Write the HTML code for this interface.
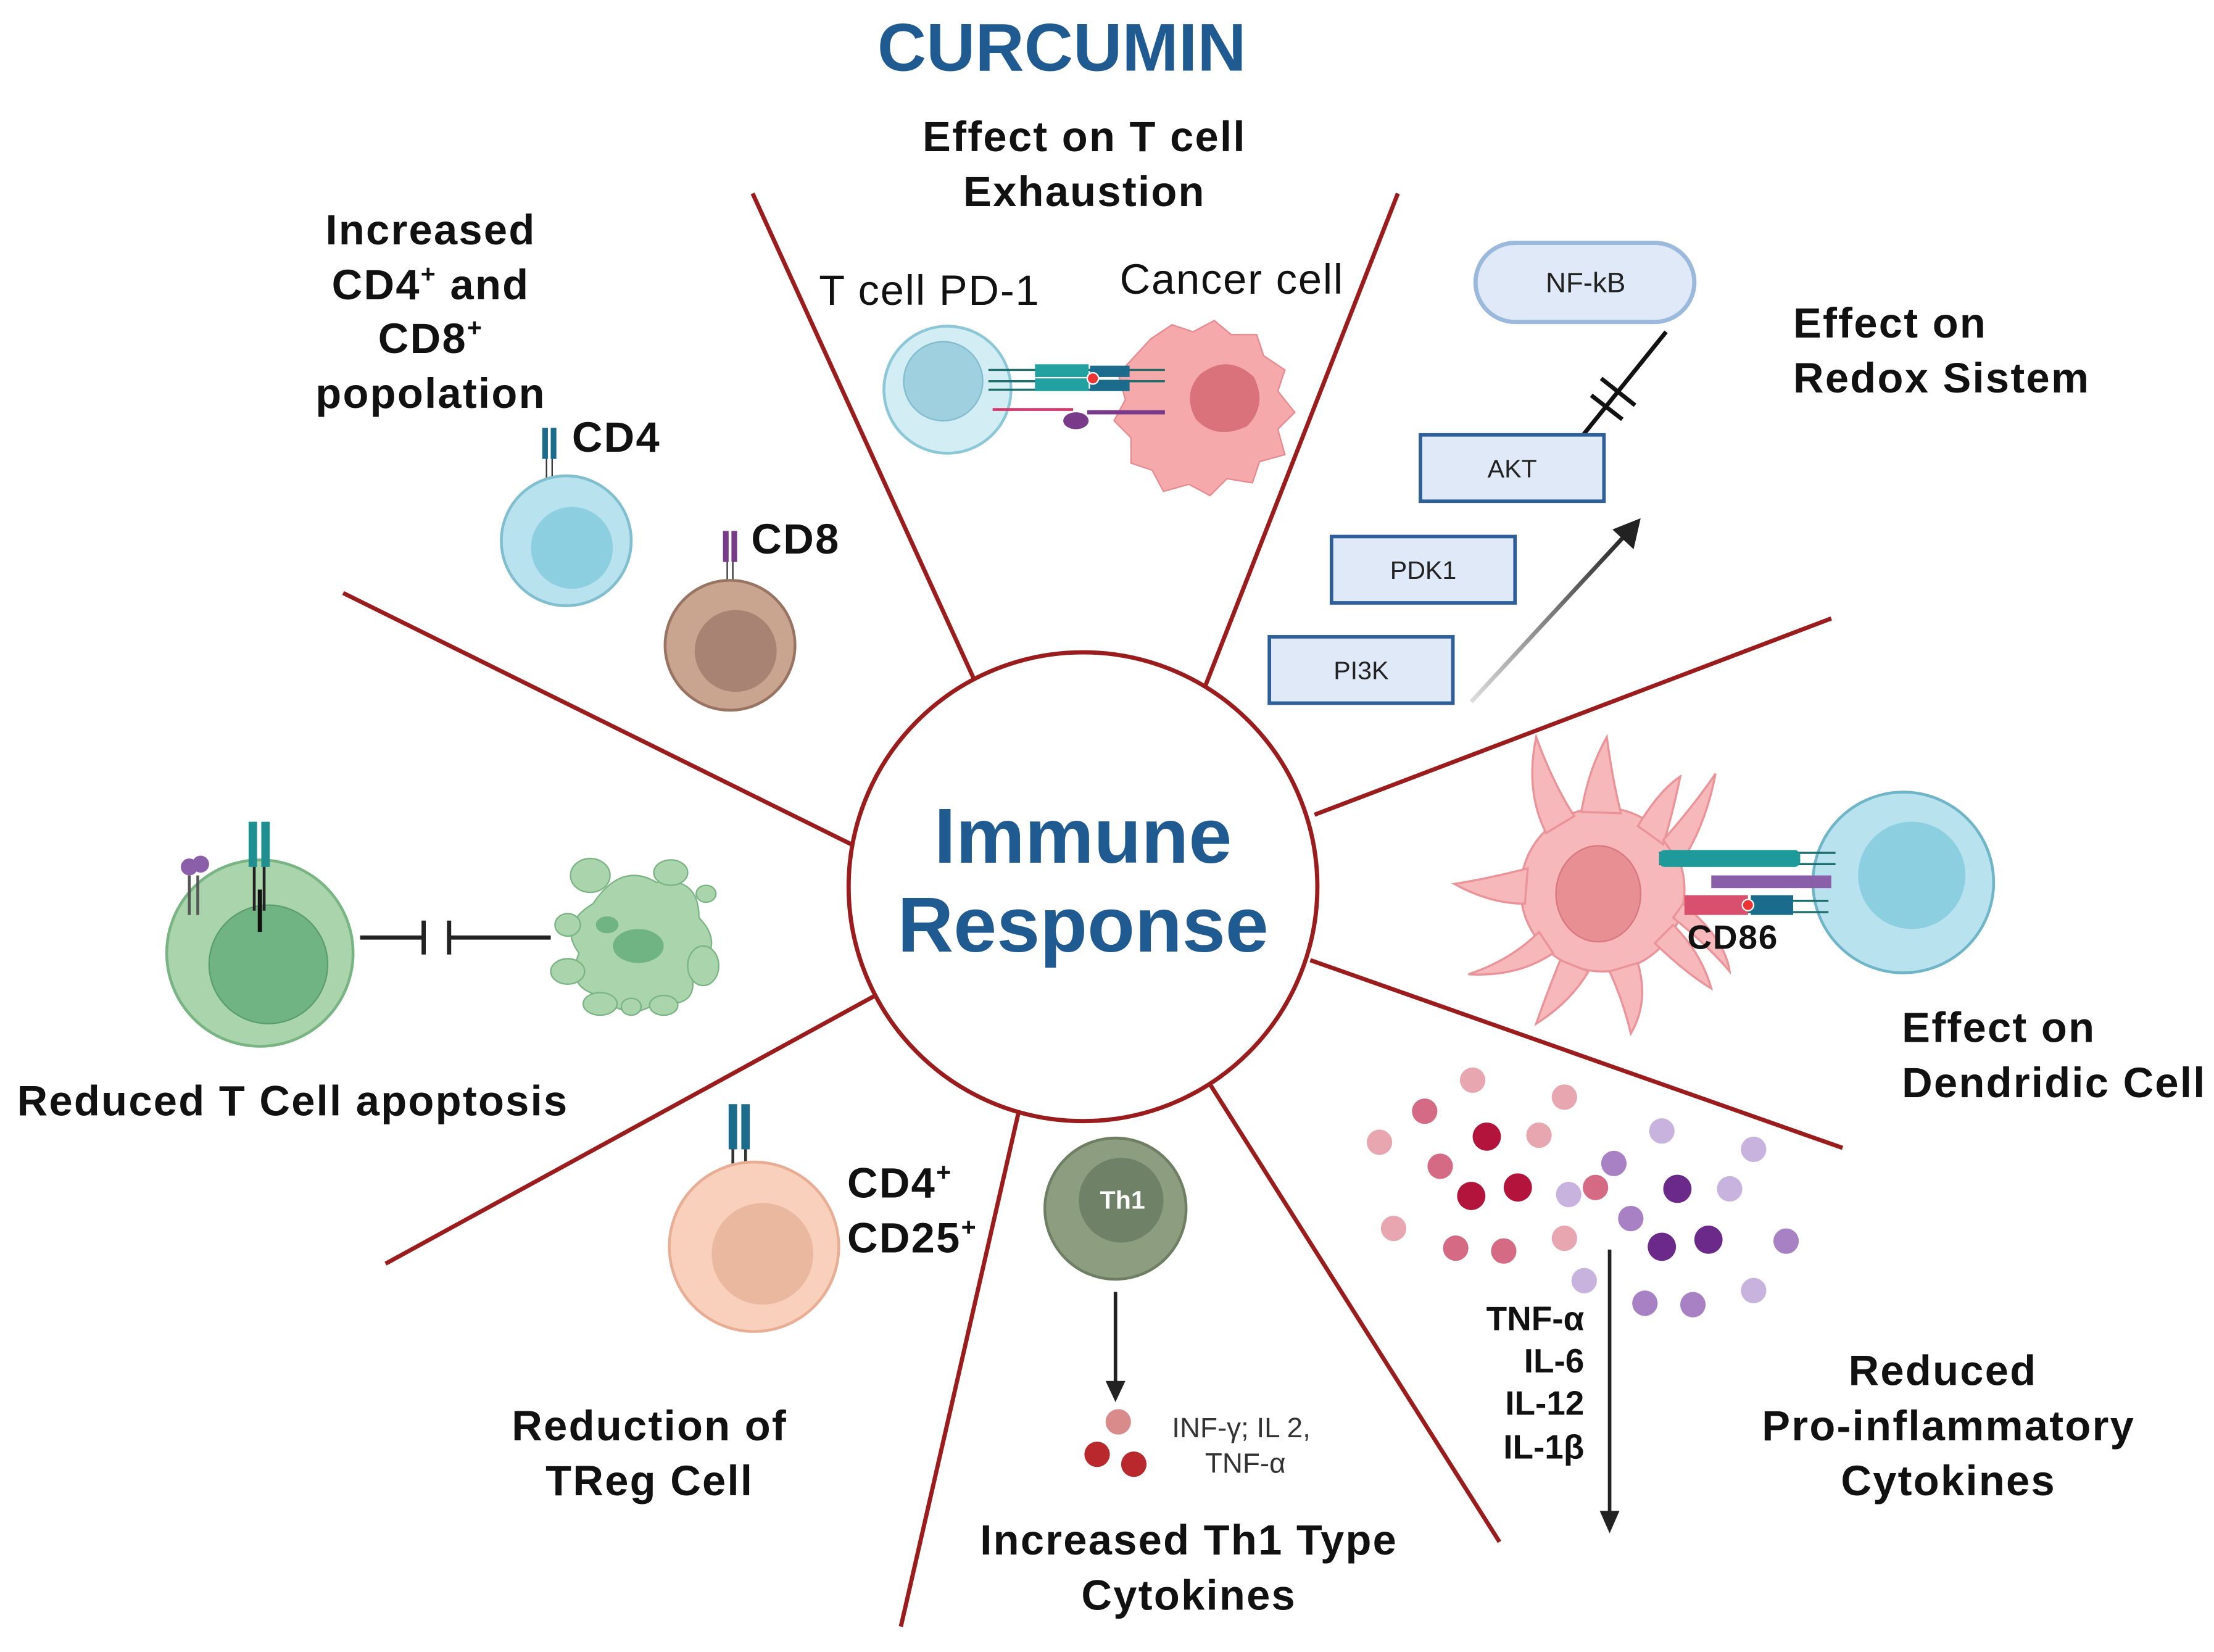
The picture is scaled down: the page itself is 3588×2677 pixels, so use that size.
<!DOCTYPE html>
<html><head><meta charset="utf-8"><style>
html,body{margin:0;padding:0;background:#fff;}
svg{display:block;}
text{font-family:"Liberation Sans",Arial,sans-serif;}
.b{font-weight:bold;fill:#111;font-size:30px;letter-spacing:1px;}
.c{text-anchor:middle;}
</style></head><body>
<svg width="3588" height="2677" viewBox="0 0 1568 1170" xmlns="http://www.w3.org/2000/svg">
<defs>
<linearGradient id="ag" x1="0" y1="1" x2="1" y2="0"><stop offset="0" stop-color="#ddd"/><stop offset="1" stop-color="#222"/></linearGradient>
</defs>
<rect width="1568" height="1170" fill="#fff"/>
<g stroke="#9b1c1c" stroke-width="3">
<line x1="533" y1="137" x2="693" y2="488"/>
<line x1="990" y1="137" x2="852" y2="490"/>
<line x1="1297" y1="438" x2="931" y2="577"/>
<line x1="1305" y1="813" x2="928" y2="680"/>
<line x1="857" y1="768" x2="1062" y2="1092"/>
<line x1="722" y1="785" x2="638" y2="1152"/>
<line x1="620" y1="705" x2="273" y2="895"/>
<line x1="603" y1="598" x2="243" y2="420"/>
</g>
<circle cx="767" cy="628" r="166" fill="#fff" stroke="#9b1c1c" stroke-width="3"/>
<text x="752" y="50" class="c" style="font-weight:bold;font-size:48px;fill:#1f5a91">CURCUMIN</text>
<text x="767" y="611" class="c" style="font-weight:bold;font-size:55px;fill:#1f5a91">Immune</text>
<text x="767" y="674" class="c" style="font-weight:bold;font-size:55px;fill:#1f5a91">Response</text>

<text x="768" y="107" class="b c">Effect on T cell</text>
<text x="768" y="146" class="b c">Exhaustion</text>
<text x="580" y="216" style="font-size:30px;fill:#111;letter-spacing:0.8px">T cell PD-1</text>
<text x="793" y="208" style="font-size:30px;fill:#111;letter-spacing:0.8px">Cancer cell</text>
<circle cx="671" cy="276" r="45" fill="#d3edf4" stroke="#8cc7d8" stroke-width="2"/>
<circle cx="668" cy="270" r="28" fill="#9fd0df" stroke="#82bccc"/>
<path d="M815 240 l15 -10 15 5 15 -8 12 10 18 0 5 15 15 10 -5 15 12 15 -12 12 5 18 -18 5 -5 15 -18 -3 -12 12 -15 -8 -18 5 -8 -15 -15 -5 0 -18 -12 -12 8 -15 -5 -18 z" fill="#f5a9ab" stroke="#e58a8e"/>
<path d="M850 265 q20 -15 38 2 q10 20 -5 35 q-22 10 -36 -5 q-10 -18 3 -32z" fill="#d9727a"/>
<g stroke="#1f6d6d" stroke-width="1.5">
<line x1="700" y1="262" x2="825" y2="262"/><line x1="700" y1="270" x2="825" y2="270"/><line x1="700" y1="276" x2="800" y2="276"/>
</g>
<rect x="733" y="258" width="38" height="9" fill="#23a0a0"/><rect x="733" y="268" width="38" height="9" fill="#23a0a0"/>
<rect x="772" y="259" width="28" height="8" fill="#1b6c8c"/><rect x="772" y="269" width="28" height="8" fill="#1b6c8c"/>
<circle cx="774" cy="268" r="4" fill="#e33" stroke="#fff"/>
<line x1="703" y1="290" x2="760" y2="290" stroke="#d13a6a" stroke-width="2"/>
<line x1="770" y1="292" x2="825" y2="292" stroke="#7a3a8a" stroke-width="3"/>
<ellipse cx="762" cy="298" rx="9" ry="6" fill="#7a3a8a"/>

<rect x="1045" y="172" width="155" height="56" rx="28" fill="#dfe9f7" stroke="#9bb8dd" stroke-width="3"/>
<text x="1123" y="207" class="c" style="font-size:20px;fill:#222">NF-kB</text>
<line x1="1180" y1="235" x2="1110" y2="322" stroke="#111" stroke-width="3"/>
<line x1="1134" y1="268" x2="1158" y2="287" stroke="#111" stroke-width="3"/>
<line x1="1127" y1="280" x2="1149" y2="297" stroke="#111" stroke-width="3"/>
<rect x="1006" y="308" width="130" height="47" fill="#dfe9f7" stroke="#2f5f99" stroke-width="2.5"/>
<text x="1071" y="338" class="c" style="font-size:18px;fill:#222">AKT</text>
<rect x="943" y="380" width="130" height="47" fill="#dfe9f7" stroke="#2f5f99" stroke-width="2.5"/>
<text x="1008" y="410" class="c" style="font-size:18px;fill:#222">PDK1</text>
<rect x="899" y="451" width="130" height="47" fill="#dfe9f7" stroke="#2f5f99" stroke-width="2.5"/>
<text x="964" y="481" class="c" style="font-size:18px;fill:#222">PI3K</text>
<line x1="1042" y1="497" x2="1152" y2="378" stroke="url(#ag)" stroke-width="3"/>
<polygon points="1162,367 1157,389 1142,375" fill="#222"/>
<text x="1270" y="239" class="b">Effect on</text>
<text x="1270" y="278" class="b">Redox Sistem</text>

<text x="305" y="173" class="b c">Increased</text>
<text x="305" y="212" class="b c">CD4<tspan font-size="18" dy="-12">+</tspan><tspan dy="12"> and</tspan></text>
<text x="305" y="250" class="b c">CD8<tspan font-size="18" dy="-12">+</tspan></text>
<text x="305" y="289" class="b c">popolation</text>
<rect x="384" y="303" width="4" height="22" fill="#1b6c8c"/><rect x="390" y="303" width="4" height="22" fill="#1b6c8c"/>
<line x1="387" y1="325" x2="387" y2="342" stroke="#333"/><line x1="391" y1="325" x2="391" y2="342" stroke="#333"/>
<circle cx="401" cy="383" r="46" fill="#b8e2ee" stroke="#7fbfd0" stroke-width="2"/>
<circle cx="405" cy="388" r="29" fill="#8ccfe0"/>
<text x="405" y="320" class="b">CD4</text>
<rect x="512" y="376" width="4" height="22" fill="#7a3a8a"/><rect x="518" y="376" width="4" height="22" fill="#7a3a8a"/>
<line x1="515" y1="398" x2="515" y2="414" stroke="#333"/><line x1="519" y1="398" x2="519" y2="414" stroke="#333"/>
<circle cx="517" cy="457" r="46" fill="#c9a48f" stroke="#9a7462" stroke-width="2"/>
<circle cx="521" cy="461" r="29" fill="#a88272"/>
<text x="532" y="392" class="b">CD8</text>

<circle cx="184" cy="675" r="66" fill="#a9d4ac" stroke="#79b483" stroke-width="2"/>
<circle cx="190" cy="683" r="42" fill="#6fb482" stroke="#5a9e6d"/>
<rect x="176" y="582" width="6" height="32" fill="#1f8f8f"/><rect x="185" y="582" width="6" height="32" fill="#1f8f8f"/>
<line x1="180" y1="614" x2="180" y2="645" stroke="#222" stroke-width="2"/><line x1="187" y1="614" x2="187" y2="645" stroke="#222" stroke-width="2"/>
<line x1="184" y1="630" x2="184" y2="660" stroke="#111" stroke-width="3"/>
<circle cx="134" cy="614" r="6" fill="#8a5ea8"/><circle cx="142" cy="612" r="6" fill="#8a5ea8"/>
<line x1="134" y1="620" x2="134" y2="648" stroke="#555" stroke-width="2"/><line x1="140" y1="620" x2="140" y2="648" stroke="#555" stroke-width="2"/>
<line x1="255" y1="664" x2="300" y2="664" stroke="#222" stroke-width="3"/>
<line x1="300" y1="652" x2="300" y2="676" stroke="#222" stroke-width="3"/>
<line x1="318" y1="652" x2="318" y2="676" stroke="#222" stroke-width="3"/>
<line x1="318" y1="664" x2="390" y2="664" stroke="#222" stroke-width="3"/>
<g fill="#a9d4ac" stroke="#79b483">
<path d="M420 640 q20 -30 45 -15 q30 -5 30 25 q20 20 -5 40 q5 25 -25 20 q-20 15 -40 -5 q-25 -5 -15 -30 q-15 -20 10 -35z"/>
<ellipse cx="418" cy="620" rx="14" ry="12"/><ellipse cx="475" cy="618" rx="12" ry="9"/>
<ellipse cx="500" cy="633" rx="7" ry="6"/><ellipse cx="402" cy="655" rx="9" ry="8"/>
<ellipse cx="402" cy="688" rx="12" ry="9"/><ellipse cx="425" cy="711" rx="12" ry="8"/>
<ellipse cx="498" cy="684" rx="11" ry="14"/><ellipse cx="470" cy="712" rx="10" ry="7"/><ellipse cx="447" cy="713" rx="7" ry="6"/>
</g>
<ellipse cx="452" cy="670" rx="18" ry="12" fill="#6fb482"/><ellipse cx="430" cy="655" rx="8" ry="6" fill="#6fb482"/>
<text x="12" y="790" class="b">Reduced T Cell apoptosis</text>

<!-- Dendritic -->
<g fill="#f7b8bb" stroke="#ea9398" stroke-width="1.5">
<circle cx="1135" cy="630" r="58"/>
<path d="M1095 590 Q1080 560 1088 522 Q1100 555 1115 578 Z"/>
<path d="M1120 575 Q1125 545 1138 522 Q1142 552 1148 576 Z"/>
<path d="M1160 585 Q1175 560 1190 550 Q1185 575 1178 598 Z"/>
<path d="M1178 595 Q1200 570 1215 548 Q1208 585 1190 612 Z"/>
<path d="M1082 615 Q1055 622 1030 626 Q1055 640 1080 640 Z"/>
<path d="M1090 660 Q1070 680 1040 690 Q1075 692 1100 675 Z"/>
<path d="M1105 680 Q1095 705 1088 725 Q1112 710 1125 688 Z"/>
<path d="M1140 688 Q1150 710 1155 732 Q1168 710 1160 682 Z"/>
<path d="M1172 668 Q1195 690 1212 700 Q1205 675 1185 655 Z"/>
<path d="M1185 650 Q1210 670 1225 688 Q1222 665 1192 640 Z"/>
</g>
<ellipse cx="1132" cy="633" rx="30" ry="34" fill="#e88f94" stroke="#d8777e"/>
<circle cx="1348" cy="625" r="64" fill="#b8e2ee" stroke="#6fb5c8" stroke-width="2"/>
<circle cx="1354" cy="620" r="38" fill="#8ccfe0"/>
<g stroke="#1f6d6d" stroke-width="1.5">
<line x1="1175" y1="604" x2="1300" y2="604"/><line x1="1175" y1="612" x2="1300" y2="612"/>
<line x1="1195" y1="638" x2="1295" y2="638"/><line x1="1195" y1="646" x2="1295" y2="646"/>
</g>
<rect x="1175" y="602" width="100" height="12" rx="4" fill="#1f9a9a"/>
<rect x="1212" y="620" width="85" height="9" fill="#8a5ea8"/>
<rect x="1193" y="634" width="45" height="14" fill="#d9506e"/>
<rect x="1240" y="634" width="30" height="14" fill="#1b6c8c"/>
<circle cx="1238" cy="641" r="4" fill="#e33" stroke="#fff"/>
<text x="1195" y="672" style="font-weight:bold;font-size:24px;fill:#111;letter-spacing:0.8px">CD86</text>
<text x="1347" y="738" class="b">Effect on</text>
<text x="1347" y="777" class="b">Dendridic Cell</text>

<rect x="516" y="782" width="6" height="32" fill="#1b6c8c"/><rect x="525" y="782" width="6" height="32" fill="#1b6c8c"/>
<line x1="519" y1="814" x2="519" y2="845" stroke="#333" stroke-width="2"/><line x1="528" y1="814" x2="528" y2="845" stroke="#333" stroke-width="2"/>
<circle cx="534" cy="883" r="60" fill="#f8d0bb" stroke="#e8ad93" stroke-width="2"/>
<circle cx="540" cy="888" r="36" fill="#eab79f"/>
<text x="600" y="848" class="b">CD4<tspan font-size="18" dy="-12">+</tspan></text>
<text x="600" y="887" class="b">CD25<tspan font-size="18" dy="-12">+</tspan></text>
<text x="460" y="1020" class="b c">Reduction of</text>
<text x="460" y="1059" class="b c">TReg Cell</text>

<circle cx="790" cy="856" r="50" fill="#8d9e80" stroke="#6f7f63" stroke-width="2"/>
<circle cx="794" cy="850" r="30" fill="#6f8166"/>
<text x="795" y="856" class="c" style="font-weight:bold;font-size:18px;fill:#fff">Th1</text>
<line x1="790" y1="915" x2="790" y2="980" stroke="#222" stroke-width="2.5"/>
<polygon points="783,978 797,978 790,993" fill="#222"/>
<circle cx="792" cy="1007" r="9" fill="#d98a8a"/><circle cx="777" cy="1030" r="9" fill="#b8282c"/><circle cx="803" cy="1037" r="9" fill="#b8282c"/>
<text x="830" y="1018" style="font-size:20px;fill:#333">INF-γ; IL 2,</text>
<text x="882" y="1043" class="c" style="font-size:20px;fill:#333">TNF-α</text>
<text x="842" y="1101" class="b c">Increased Th1 Type</text>
<text x="842" y="1140" class="b c">Cytokines</text>

<g>
<circle cx="1043" cy="765" r="9" fill="#e8a6b0"/><circle cx="1108" cy="777" r="9" fill="#e8a6b0"/>
<circle cx="977" cy="809" r="9" fill="#e8a6b0"/><circle cx="1009" cy="787" r="9" fill="#d46a84"/>
<circle cx="1053" cy="805" r="10" fill="#b3143c"/><circle cx="1090" cy="804" r="9" fill="#e8a6b0"/>
<circle cx="1020" cy="826" r="9" fill="#d46a84"/><circle cx="1042" cy="847" r="10" fill="#b3143c"/>
<circle cx="1075" cy="841" r="10" fill="#b3143c"/><circle cx="1130" cy="841" r="9" fill="#d46a84"/>
<circle cx="1111" cy="846" r="9" fill="#c7b3de"/><circle cx="1143" cy="824" r="9" fill="#a880c4"/>
<circle cx="1177" cy="801" r="9" fill="#c7b3de"/><circle cx="1242" cy="814" r="9" fill="#c7b3de"/>
<circle cx="1188" cy="842" r="10" fill="#6b2a8a"/><circle cx="1225" cy="842" r="9" fill="#c7b3de"/>
<circle cx="1155" cy="863" r="9" fill="#a880c4"/><circle cx="987" cy="870" r="9" fill="#e8a6b0"/>
<circle cx="1031" cy="884" r="9" fill="#d46a84"/><circle cx="1065" cy="886" r="9" fill="#d46a84"/>
<circle cx="1108" cy="877" r="9" fill="#e8a6b0"/><circle cx="1177" cy="883" r="10" fill="#6b2a8a"/>
<circle cx="1210" cy="878" r="10" fill="#6b2a8a"/><circle cx="1265" cy="879" r="9" fill="#a880c4"/>
<circle cx="1122" cy="907" r="9" fill="#c7b3de"/><circle cx="1165" cy="923" r="9" fill="#a880c4"/>
<circle cx="1199" cy="924" r="9" fill="#a880c4"/><circle cx="1242" cy="914" r="9" fill="#c7b3de"/>
</g>
<line x1="1140" y1="885" x2="1140" y2="1072" stroke="#222" stroke-width="2.5"/>
<polygon points="1133,1070 1147,1070 1140,1086" fill="#222"/>
<g style="font-weight:bold;font-size:24px;fill:#111" text-anchor="end">
<text x="1122" y="942">TNF-α</text><text x="1122" y="972">IL-6</text>
<text x="1122" y="1002">IL-12</text><text x="1122" y="1033">IL-1β</text>
</g>
<text x="1376" y="981" class="b c">Reduced</text>
<text x="1380" y="1020" class="b c">Pro-inflammatory</text>
<text x="1380" y="1059" class="b c">Cytokines</text>
</svg>
</body></html>
